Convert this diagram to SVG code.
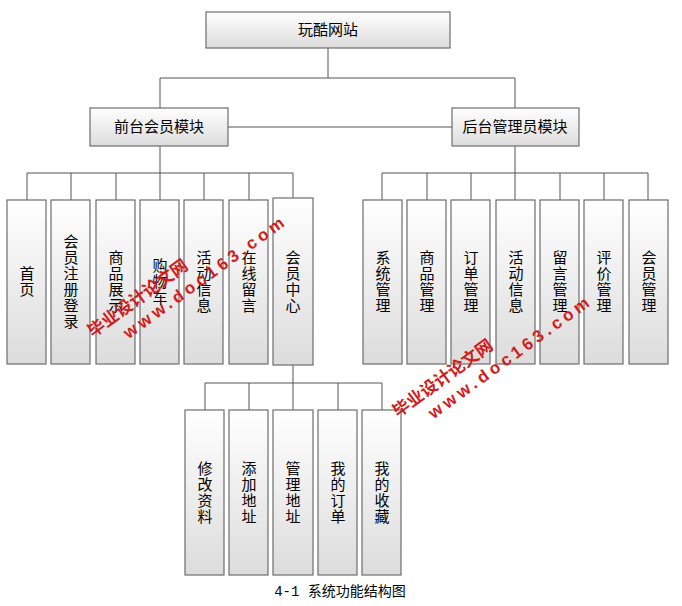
<svg xmlns="http://www.w3.org/2000/svg" width="682" height="606" viewBox="0 0 682 606">
<style>
.b{fill:url(#g);stroke:#6d6d6d;stroke-width:1.2}
.t{font-family:"Noto Sans CJK SC","Liberation Sans",sans-serif;font-size:15px;fill:#000;text-anchor:middle}
.v{font-family:"Noto Sans CJK SC",sans-serif;font-size:15px;fill:#000;text-anchor:middle;writing-mode:tb;letter-spacing:1px}
.c{fill:none;stroke:#555;stroke-width:1}
.w{font-family:"Liberation Sans","Noto Sans CJK SC",sans-serif;font-weight:bold;font-size:17px;fill:#d21c1c}
</style>
<defs>
<linearGradient id="g" x1="0" y1="0" x2="0" y2="1"><stop offset="0" stop-color="#ffffff"/><stop offset="1" stop-color="#dcdcdc"/></linearGradient>
</defs>
<g id="connectors" class="c">
<path d="M328 48V78M160 78H515M160 78V108M515 78V108M228 127H452"/>
<path d="M160 146V173M27 173H293M27 173V200M71 173V200M116 173V200M160 173V200M204 173V200M249 173V200M293 173V198"/>
<path d="M515 146V173M382 173H648M382 173V200M427 173V200M471 173V200M515 173V200M560 173V200M604 173V200M648 173V200"/>
<path d="M293 365V383M205 383H382M205 383V410M249 383V410M293 383V410M338 383V410M382 383V410"/>
</g>
<g id="root"><rect class="b" x="206" y="12" width="244" height="36"/><text class="t" x="328" y="35">玩酷网站</text></g>
<g id="front"><rect class="b" x="90" y="108" width="138" height="38"/><text class="t" x="159" y="132">前台会员模块</text></g>
<g id="back"><rect class="b" x="452" y="108" width="127" height="38"/><text class="t" x="515" y="132">后台管理员模块</text></g>
<g id="f1"><rect class="b" x="7" y="200" width="39" height="164"/><text class="v" x="27" y="282">首页</text></g>
<g id="f2"><rect class="b" x="51" y="200" width="39" height="164"/><text class="v" x="71" y="282">会员注册登录</text></g>
<g id="f3"><rect class="b" x="96" y="200" width="39" height="164"/><text class="v" x="116" y="282">商品展示</text></g>
<g id="f4"><rect class="b" x="140" y="200" width="39" height="164"/><text class="v" x="160" y="282">购物车</text></g>
<g id="f5"><rect class="b" x="184" y="200" width="39" height="164"/><text class="v" x="204" y="282">活动信息</text></g>
<g id="f6"><rect class="b" x="229" y="200" width="39" height="164"/><text class="v" x="249" y="282">在线留言</text></g>
<g id="f7"><rect class="b" x="273" y="198" width="40" height="167"/><text class="v" x="293" y="282">会员中心</text></g>
<g id="b1"><rect class="b" x="363" y="200" width="39" height="164"/><text class="v" x="383" y="282">系统管理</text></g>
<g id="b2"><rect class="b" x="407" y="200" width="39" height="164"/><text class="v" x="427" y="282">商品管理</text></g>
<g id="b3"><rect class="b" x="451" y="200" width="39" height="164"/><text class="v" x="471" y="282">订单管理</text></g>
<g id="b4"><rect class="b" x="496" y="200" width="39" height="164"/><text class="v" x="516" y="282">活动信息</text></g>
<g id="b5"><rect class="b" x="540" y="200" width="39" height="164"/><text class="v" x="560" y="282">留言管理</text></g>
<g id="b6"><rect class="b" x="584" y="200" width="39" height="164"/><text class="v" x="604" y="282">评价管理</text></g>
<g id="b7"><rect class="b" x="629" y="200" width="39" height="164"/><text class="v" x="649" y="282">会员管理</text></g>
<g id="m1"><rect class="b" x="185" y="410" width="39" height="165"/><text class="v" x="205" y="493">修改资料</text></g>
<g id="m2"><rect class="b" x="229" y="410" width="39" height="165"/><text class="v" x="249" y="493">添加地址</text></g>
<g id="m3"><rect class="b" x="273" y="410" width="40" height="165"/><text class="v" x="293" y="493">管理地址</text></g>
<g id="m4"><rect class="b" x="318" y="410" width="39" height="165"/><text class="v" x="338" y="493">我的订单</text></g>
<g id="m5"><rect class="b" x="362" y="410" width="39" height="165"/><text class="v" x="382" y="493">我的收藏</text></g>
<text x="340" y="596" style="font-family:'Liberation Mono','Noto Sans CJK SC',monospace;font-size:14px;text-anchor:middle">4-1  系统功能结构图</text>
<g transform="translate(93,338) rotate(-36)"><text class="w" x="0" y="0">毕业设计论文网</text><text class="w" x="28" y="22" letter-spacing="4">www.doc163.com</text></g>
<g transform="translate(398,418) rotate(-36)"><text class="w" x="0" y="0">毕业设计论文网</text><text class="w" x="28" y="22" letter-spacing="4">www.doc163.com</text></g>
</svg>
